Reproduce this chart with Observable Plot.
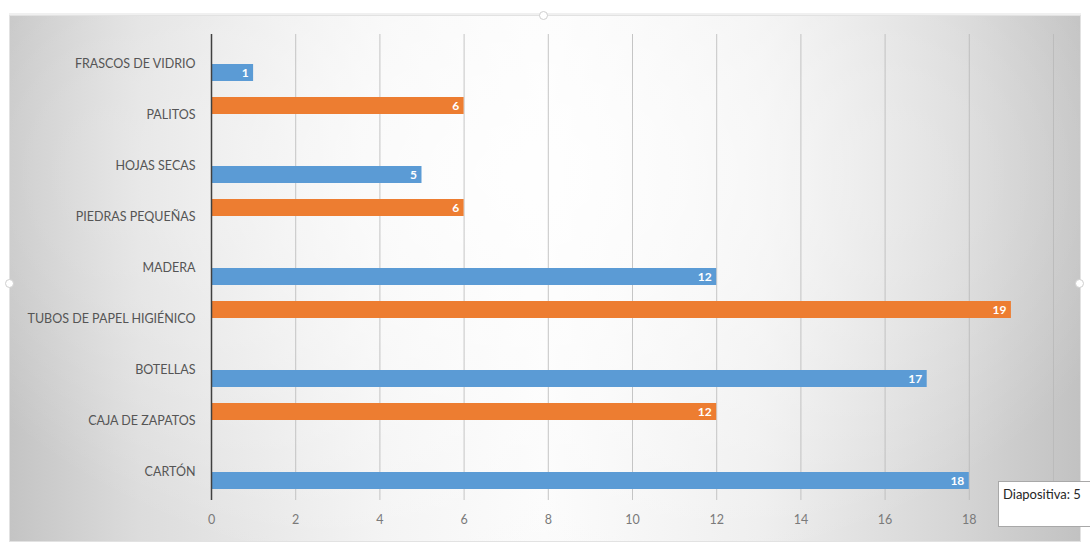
<!DOCTYPE html>
<html>
<head>
<meta charset="utf-8">
<script src="https://cdn.jsdelivr.net/npm/d3@7"></script>
<script src="https://cdn.jsdelivr.net/npm/@observablehq/plot@0.6"></script>
<style>
  html, body { margin: 0; padding: 0; background: #ffffff; }
  #stage { position: relative; width: 1090px; height: 546px; overflow: hidden; }
  #panel {
    position: absolute; left: 9px; top: 15px; width: 1070px; height: 525px;
    background:
      radial-gradient(ellipse 60% 80% at 48% 30%, rgba(255,255,255,0.85) 0%, rgba(255,255,255,0) 100%),
      linear-gradient(to right, #c4c4c4 0%, #dcdcdc 12%, #f3f3f3 35%, #fbfbfb 50%, #eeeeee 70%, #d6d6d6 88%, #c2c2c2 100%);
    border: 1px solid #e2e2e2;
    box-shadow: 0 -2px 0 #f0f0f0;
  }
  .handle { position: absolute; width: 7px; height: 7px; border-radius: 50%; background: #fff; border: 1px solid #cfcfcf; }
  #chart { position: absolute; left: 0; top: 0; }
  #tip {
    position: absolute; left: 998px; top: 481px; width: 100px; height: 46px;
    background: #ffffff; border: 1px solid #a8a8a8; box-sizing: border-box;
    font-family: Lato, "DejaVu Sans", sans-serif; font-size: 13px; color: #262626;
    padding: 4px 0 0 4px; white-space: nowrap;
  }
</style>
</head>
<body>
<div id="stage">
  <div id="panel"></div>
  <div class="handle" style="left:539px; top:11px"></div>
  <div class="handle" style="left:5px; top:279px"></div>
  <div class="handle" style="left:1075px; top:279px"></div>
  <div id="chart"></div>
  <div id="tip">Diapositiva: 5</div>
</div>
<script>
// Materials collected, top to bottom
const categories = [
  "FRASCOS DE VIDRIO",
  "PALITOS",
  "HOJAS SECAS",
  "PIEDRAS PEQUEÑAS",
  "MADERA",
  "TUBOS DE PAPEL HIGIÉNICO",
  "BOTELLAS",
  "CAJA DE ZAPATOS",
  "CARTÓN"
];
const values = [1, 6, 5, 6, 12, 19, 17, 12, 18];
const series = ["Serie 1", "Serie 2", "Serie 1", "Serie 2", "Serie 1", "Serie 2", "Serie 1", "Serie 2", "Serie 1"];
const seriesNames = ["Serie 1", "Serie 2"];
const seriesColors = ["#5b9bd5", "#ed7d31"];
const xTicks = [0, 2, 4, 6, 8, 10, 12, 14, 16, 18, 20];

const rows = categories.map((c, i) => ({category: c, value: values[i], series: series[i]}));
const s1 = rows.filter(d => d.series === seriesNames[0]);
const s2 = rows.filter(d => d.series === seriesNames[1]);

// Clustered bars: each series sits on its own side of the category center
const offset = 9;
const font = "Lato, 'DejaVu Sans', sans-serif";

const chart = Plot.plot({
  width: 1090,
  height: 546,
  marginLeft: 211,
  marginRight: 37,
  marginTop: 34,
  marginBottom: 46,
  style: {background: "transparent", fontFamily: font, color: "#595959"},
  x: {domain: [0, 20], ticks: xTicks, label: null},
  y: {domain: categories, paddingInner: 0.67, paddingOuter: 0.335, label: null},
  color: {domain: seriesNames, range: seriesColors},
  marks: [
    Plot.ruleX(xTicks.slice(1), {stroke: "#b8b8b8", strokeOpacity: 0.8, strokeWidth: 1}),
    Plot.barX(s1, {y: "category", x: "value", fill: "series", dy: offset}),
    Plot.barX(s2, {y: "category", x: "value", fill: "series", dy: -offset}),
    Plot.text(s1, {y: "category", x: "value", text: d => String(d.value), dy: offset, dx: -5,
      textAnchor: "end", fill: "#ffffff", fontWeight: "bold", fontSize: 12}),
    Plot.text(s2, {y: "category", x: "value", text: d => String(d.value), dy: -offset, dx: -5,
      textAnchor: "end", fill: "#ffffff", fontWeight: "bold", fontSize: 12}),
    Plot.ruleX([0], {stroke: "#404040", strokeWidth: 1.5}),
    Plot.axisY({tickSize: 0, tickPadding: 16, fontSize: 12.5, fill: "#555555"}),
    Plot.axisX({ticks: xTicks, tickSize: 0, tickPadding: 15, fontSize: 12.5, fill: "#7a7a7a"})
  ]
});
document.getElementById("chart").appendChild(chart);
</script>
</body>
</html>
